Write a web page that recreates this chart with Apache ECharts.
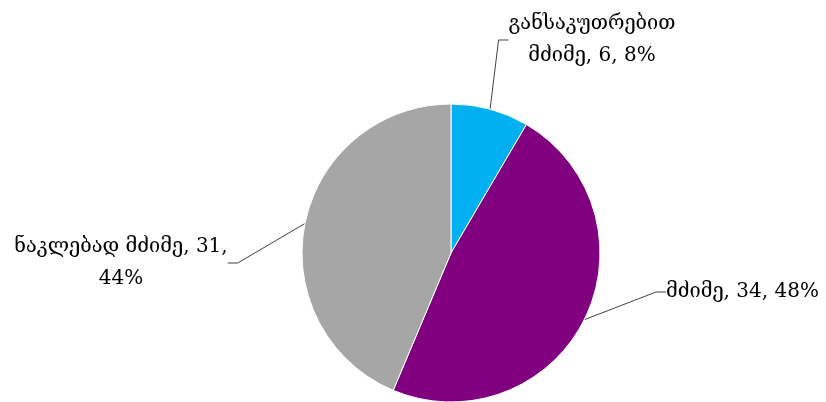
<!DOCTYPE html>
<html><head><meta charset="utf-8">
<script src="https://cdn.jsdelivr.net/npm/echarts@6/dist/echarts.min.js"></script>
<style>html,body{margin:0;padding:0;background:#fff}#c{width:826px;height:402px}</style>
</head><body><div id="c"></div>
<script>
const categories = ['განსაკუთრებით მძიმე', 'მძიმე', 'ნაკლებად მძიმე'];
const values = [6, 34, 31];
const percents = ['8%', '48%', '44%'];
const labelTexts = ['განსაკუთრებით\nმძიმე, 6, 8%', 'მძიმე, 34, 48%', 'ნაკლებად მძიმე, 31,\n44%'];
const colors = ['#00B0F0', '#800080', '#A6A6A6'];
const labelPos = [
  {x: 592, y: 40, align: 'center'},
  {x: 666, y: 292, align: 'left'},
  {x: 121, y: 263, align: 'center'}
];
const chart = echarts.init(document.getElementById('c'), null, {renderer: 'canvas'});
chart.setOption({
  animation: false,
  series: [{
    type: 'pie',
    center: [451, 253],
    radius: 149,
    startAngle: 90,
    clockwise: true,
    data: categories.map((c, i) => ({name: c, value: values[i], itemStyle: {color: colors[i]}})),
    itemStyle: {borderColor: '#fff', borderWidth: 1},
    label: {
      show: true,
      formatter: p => labelTexts[p.dataIndex],
      fontFamily: 'DejaVu Serif',
      fontSize: 20,
      lineHeight: 32,
      color: '#000'
    },
    labelLine: {show: true, length: 20, length2: 10, lineStyle: {color: '#404040', width: 1}},
    labelLayout: p => ({
      x: labelPos[p.dataIndex].x,
      y: labelPos[p.dataIndex].y,
      align: labelPos[p.dataIndex].align,
      verticalAlign: 'middle',
      moveOverlap: null
    })
  }]
});
</script></body></html>
